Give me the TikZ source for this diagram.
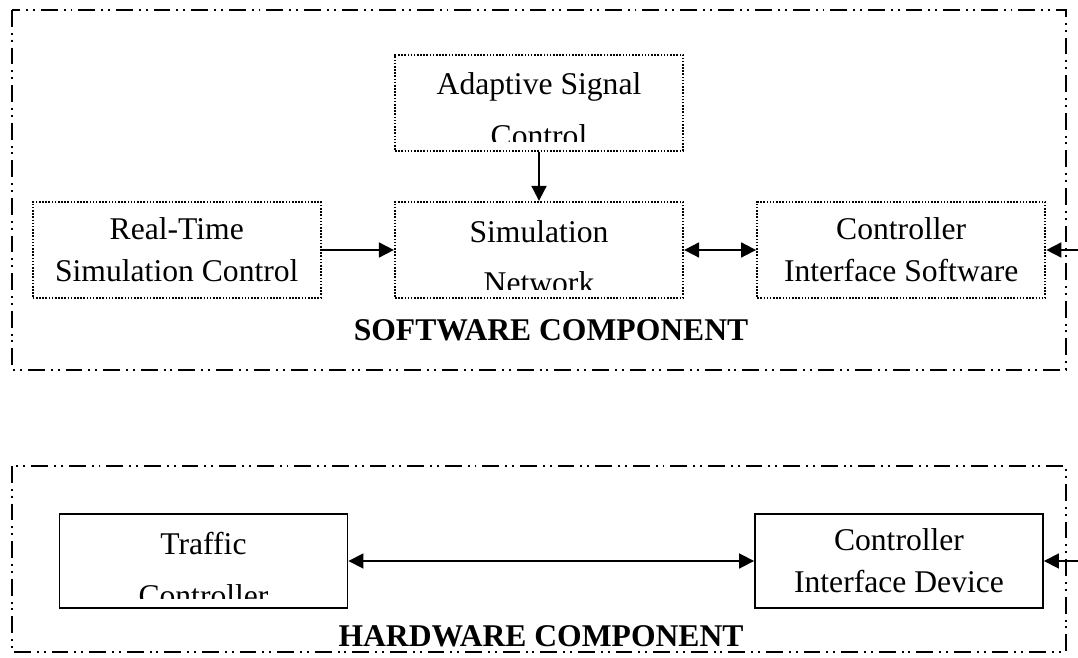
\documentclass[tikz,border=0pt]{standalone}
\usepackage{fontspec}
\setmainfont{Liberation Serif}
\usetikzlibrary{arrows.meta,positioning}
\newcommand\boxfont{\fontsize{18}{24}\selectfont}
\newcommand\cutfont{\fontsize{18}{29.5}\selectfont}
\tikzset{
  basic-style/.style = {
    rectangle, line width=1.1pt, align=center,
    minimum width=5.76cm, minimum height=1.92cm,
    inner sep=0pt, font=\boxfont
  },
  soft-style/.style = {
    basic-style, draw, line width=1.3pt, dash pattern=on 0.9pt off 0.9pt
  },
  hard-style/.style = {
    basic-style, draw, minimum height=1.88cm
  },
  cut-text-style/.style = {
    align=center, inner sep=0pt, font=\cutfont
  },
  frame-style/.style = {
    line width=0.8pt,
    dash pattern=on 9.6pt off 3.4pt on 1.1pt off 2.8pt on 1.1pt off 3.4pt
  },
  title-style/.style = {
    font=\fontsize{18}{24}\selectfont\bfseries, inner sep=0pt, anchor=base
  },
  every edge/.style = {draw, line width=1pt}
}
% box text whose last line is cut off by the box
\newcommand\cutLabel[3]{
  \begin{scope}
    \clip (#1.north west) rectangle ([yshift=0.2cm]#1.south east);
    \node[cut-text-style, anchor=base] (#2) at ([yshift=-1.86cm]#1.north) {#3};
  \end{scope}
}

\begin{document}
\begin{tikzpicture}[x=0.02cm, y=-0.02cm, >={Triangle[length=8.5pt,width=8.5pt]}]
    \useasboundingbox (0,0) rectangle (1078,658);

    %%% frames
    \draw[frame-style] (12,10) rectangle (1066,370);
    \draw[frame-style] (12,466) rectangle (1066,652);

    %%% software component
    \node[soft-style] (simNet) at (539,250) {};
    \node[soft-style, left=1.44cm of simNet] (rtControl) {Real-Time\\Simulation Control};
    \node[soft-style, right=1.44cm of simNet] (ciSoft) {Controller\\Interface Software};
    \node[soft-style, above=0.98cm of simNet] (adSignal) {};
    \cutLabel{simNet}{simNetText}{Simulation\\Network}
    \cutLabel{adSignal}{adSignalText}{Adaptive Signal\\Control}
    \node[title-style] (swTitle) at (551,340) {SOFTWARE COMPONENT};

    %%% hardware component
    \node[hard-style] (ciDevice) at (899,561) {Controller\\Interface Device};
    \node[hard-style] (trafficCtrl) at (203.5,561) {};
    \cutLabel{trafficCtrl}{trafficCtrlText}{Traffic\\Controller}
    \node[title-style] (hwTitle) at (541,646) {HARDWARE COMPONENT};

    %%% outside links
    \coordinate (swLink) at (1078,250);
    \coordinate (hwLink) at (1078,561);

    %%% arrows
    \path[->] (rtControl.east) edge (simNet.west);
    \path[->] (adSignal.south) edge (simNet.north);
    \path[<->] (simNet.east) edge (ciSoft.west);
    \path[<->] (trafficCtrl.east) edge (ciDevice.west);
    \path[->] (swLink) edge (ciSoft.east);
    \path[->] (hwLink) edge (ciDevice.east);
\end{tikzpicture}
\end{document}
